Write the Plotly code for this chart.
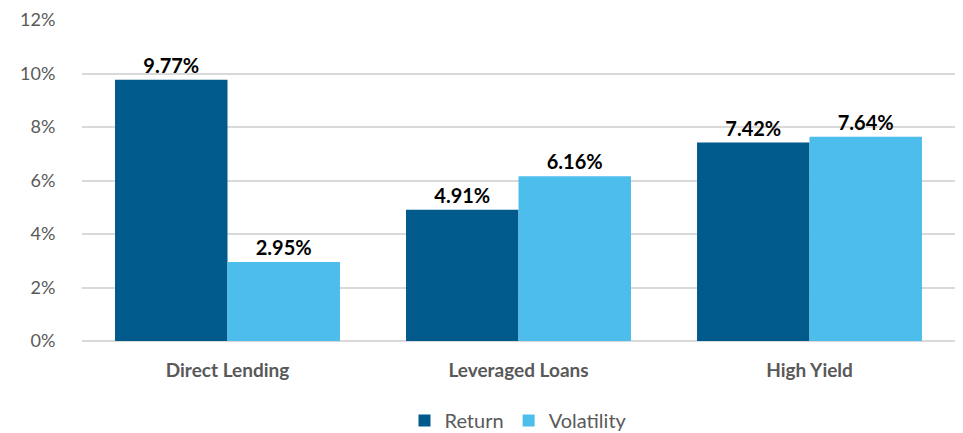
import plotly.graph_objects as go

categories = ["Direct Lending", "Leveraged Loans", "High Yield"]
return_vals = [9.77, 4.91, 7.42]
volatility_vals = [2.95, 6.16, 7.64]
tick_vals = [0, 2, 4, 6, 8, 10, 12]
tick_text = ["0%", "2%", "4%", "6%", "8%", "10%", "12%"]

FONT = "Lato, Open Sans, sans-serif"

fig = go.Figure()
fig.add_trace(go.Bar(
    name="Return", x=categories, y=return_vals,
    marker=dict(color="#005A8B", line=dict(width=0)),
    text=[f"{v:.2f}%" for v in return_vals], textposition="outside",
    textfont=dict(family=FONT, size=20, color="#000000", weight="bold"),
    cliponaxis=False,
))
fig.add_trace(go.Bar(
    name="Volatility", x=categories, y=volatility_vals,
    marker=dict(color="#4DBDEB", line=dict(width=0)),
    text=[f"{v:.2f}%" for v in volatility_vals], textposition="outside",
    textfont=dict(family=FONT, size=20, color="#000000", weight="bold"),
    cliponaxis=False,
))

fig.update_layout(
    width=963, height=433,
    margin=dict(l=74, r=16, t=12, b=100, autoexpand=False),
    paper_bgcolor="white", plot_bgcolor="white",
    barmode="group", bargap=0.227, bargroupgap=0,
    font=dict(family=FONT, color="#595959"),
    legend=dict(orientation="h", x=0.5, xanchor="center", y=-0.187, yanchor="top",
                font=dict(family=FONT, size=20, color="#595959"),
                itemwidth=30, traceorder="normal"),
    xaxis=dict(tickfont=dict(family=FONT, size=19, color="#595959", weight="bold"),
               showline=False, ticks="outside", tickcolor="white", ticklen=12,
               showgrid=False, automargin=False),
    yaxis=dict(range=[0, 12], tickvals=tick_vals, ticktext=tick_text,
               tickfont=dict(family=FONT, size=18, color="#595959"),
               gridcolor="#D9D9D9", gridwidth=1.5, zeroline=True, zerolinecolor="#D9D9D9",
               zerolinewidth=1.5, ticks="outside", tickcolor="white", ticklen=22,
               automargin=False, ticklabeloverflow="allow"),
)

fig.write_html("out.html")
